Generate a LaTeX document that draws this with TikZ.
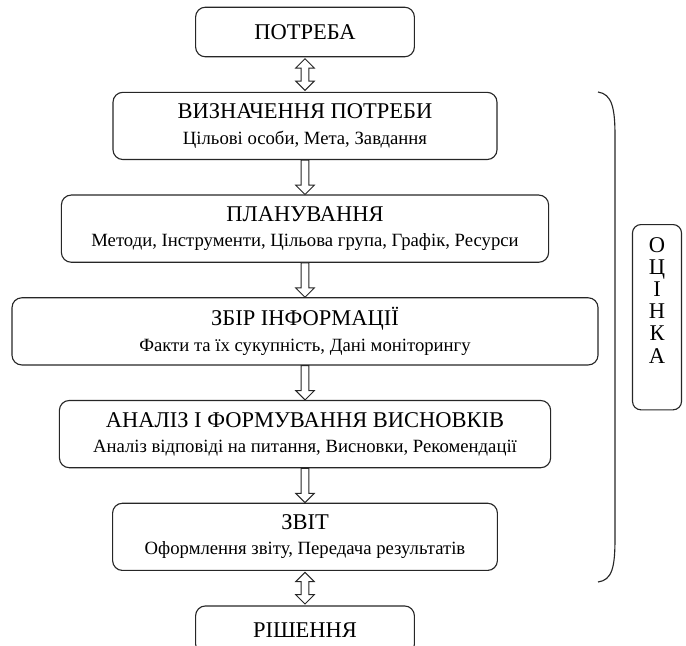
\documentclass[tikz,border=0pt]{standalone}
\usepackage{fontspec}
\setmainfont{Liberation Serif}
\usetikzlibrary{positioning,calc}

\newcommand{\flowdown}[2]{%
  \draw[hollow] let \p1=(#1.south), \p2=(#2.north) in
    (\x1-2.7pt,\y1) -- (\x1+2.7pt,\y1) -- (\x1+2.7pt,\y2+6.6pt)
    -- (\x1+6.6pt,\y2+6.6pt) -- (\x1,\y2) -- (\x1-6.6pt,\y2+6.6pt)
    -- (\x1-2.7pt,\y2+6.6pt) -- cycle;}
\newcommand{\flowboth}[2]{%
  \draw[hollow] let \p1=(#1.south), \p2=(#2.north) in
    (\x1,\y1-1pt) -- (\x1+6.6pt,\y1-7.6pt) -- (\x1+2.7pt,\y1-7.6pt)
    -- (\x1+2.7pt,\y2+7.6pt) -- (\x1+6.6pt,\y2+7.6pt) -- (\x1,\y2+1pt)
    -- (\x1-6.6pt,\y2+7.6pt) -- (\x1-2.7pt,\y2+7.6pt)
    -- (\x1-2.7pt,\y1-7.6pt) -- (\x1-6.6pt,\y1-7.6pt) -- cycle;}
\newcommand{\subline}{\fontsize{13.3}{15}\selectfont}

\begin{document}
\begin{tikzpicture}[node distance=0.86cm,
  stage/.style={draw=black!85, line width=0.8pt, rounded corners=7pt,
    align=center, font=\fontsize{16}{19}\selectfont, minimum height=1.68cm},
  endpt/.style={stage, minimum width=5.47cm, minimum height=1.24cm},
  hollow/.style={draw=black!85, line width=0.7pt, fill=white}]
  \useasboundingbox (0,0) rectangle (17.15,-16.125);

  \node[endpt] (potreba) at (7.625,-0.8) {ПОТРЕБА};
  \node[stage, minimum width=9.6cm, below=of potreba] (vyznach)
    {ВИЗНАЧЕННЯ ПОТРЕБИ\\[-1pt]{\subline Цільові особи, Мета, Завдання}};
  \node[stage, minimum width=12.18cm, below=of vyznach] (plan)
    {ПЛАНУВАННЯ\\[-1pt]{\subline Методи, Інструменти, Цільова група, Графік, Ресурси}};
  \node[stage, minimum width=14.65cm, below=of plan] (zbir)
    {ЗБІР ІНФОРМАЦІЇ\\[-1pt]{\subline Факти та їх сукупність, Дані моніторингу}};
  \node[stage, minimum width=12.28cm, below=of zbir] (analiz)
    {АНАЛІЗ І ФОРМУВАННЯ ВИСНОВКІВ\\[-1pt]{\subline Аналіз відповіді на питання, Висновки, Рекомендації}};
  \node[stage, minimum width=9.62cm, below=of analiz] (zvit)
    {ЗВІТ\\[-1pt]{\subline Оформлення звіту, Передача результатів}};
  \node[endpt, minimum height=1.2cm, below=of zvit] (rishennia) {РІШЕННЯ};

  % arrows between the stages
  \flowboth{potreba}{vyznach}
  \flowdown{vyznach}{plan}
  \flowdown{plan}{zbir}
  \flowdown{zbir}{analiz}
  \flowdown{analiz}{zvit}
  \flowboth{zvit}{rishennia}

  % brace and evaluation box
  \draw[black!85, line width=0.8pt] (14.95,-2.3)
    .. controls (15.3,-2.35) and (15.375,-2.7) .. (15.375,-3.4)
    -- (15.375,-13.45) .. controls (15.375,-14.2) and (15.3,-14.5) .. (14.95,-14.55);
  \node[draw=black!85, line width=0.8pt, rounded corners=6pt, anchor=north,
    minimum width=1.225cm, align=center, inner ysep=9pt, text depth=0.85cm,
    font=\fontsize{16}{15.8}\selectfont] (ocinka) at (16.425,-5.6)
    {О\\Ц\\І\\Н\\К\\А};
\end{tikzpicture}
\end{document}
